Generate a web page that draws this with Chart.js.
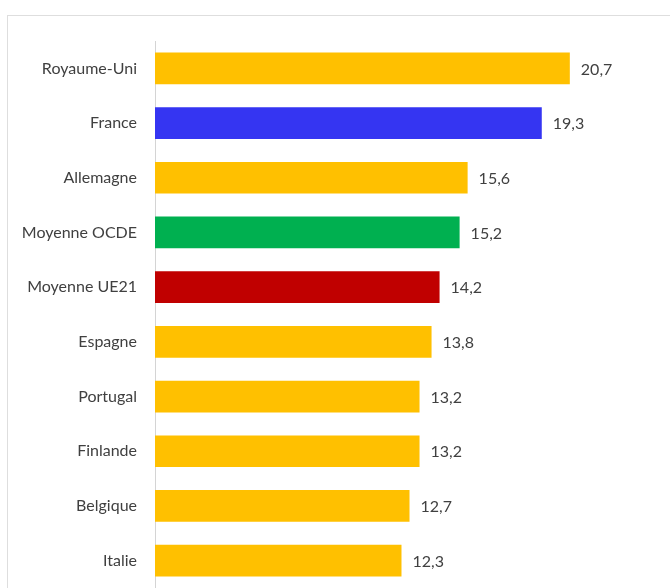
<!DOCTYPE html>
<html>
<head>
<meta charset="utf-8">
<script src="https://cdn.jsdelivr.net/npm/chart.js@4/dist/chart.umd.min.js"></script>
<style>
  html, body { margin: 0; padding: 0; background: #fff; overflow: hidden; }
  #cadre { position: absolute; left: 7px; top: 15px; width: 700px; height: 600px; border: 1px solid #dedede; }
  #graphique { position: absolute; left: 0; top: 0; }
</style>
</head>
<body>
<div id="cadre"></div>
<canvas id="graphique" width="670" height="588"></canvas>
<script>
const pays = ['Royaume-Uni', 'France', 'Allemagne', 'Moyenne OCDE', 'Moyenne UE21',
    'Espagne', 'Portugal', 'Finlande', 'Belgique', 'Italie'];
const valeurs = [20.7, 19.3, 15.6, 15.2, 14.2, 13.8, 13.2, 13.2, 12.7, 12.3];
const couleurs = ['#FFC000', '#3535F2', '#FFC000', '#00B050', '#C00000',
    '#FFC000', '#FFC000', '#FFC000', '#FFC000', '#FFC000'];

// étiquettes de valeur à droite des barres, avec virgule décimale
const etiquettesValeurs = {
    id: 'etiquettesValeurs',
    afterDatasetsDraw(chart) {
        const ctx = chart.ctx;
        const meta = chart.getDatasetMeta(0);
        ctx.save();
        ctx.font = '16px Lato';
        ctx.fillStyle = '#404040';
        ctx.textAlign = 'left';
        ctx.textBaseline = 'middle';
        meta.data.forEach((barre, i) => {
            const txt = valeurs[i].toFixed(1).replace('.', ',');
            ctx.fillText(txt, barre.x + 11, barre.y + 1);
        });
        ctx.restore();
    }
};

const ctx = document.getElementById('graphique').getContext('2d');
new Chart(ctx, {
    type: 'bar',
    data: {
        labels: pays,
        datasets: [{
            data: valeurs,
            backgroundColor: couleurs,
            borderWidth: 0,
            categoryPercentage: 1,
            barPercentage: 0.58
        }]
    },
    options: {
        indexAxis: 'y',
        responsive: false,
        animation: false,
        layout: { padding: { left: 0, top: 41, right: 14, bottom: 0 } },
        plugins: {
            legend: { display: false },
            tooltip: { enabled: false }
        },
        scales: {
            x: { display: false, min: 0, max: 25 },
            y: {
                afterFit: scale => {
                    scale.width = 155;
                    // pas de marge en bas : les barres descendent jusqu'au bord
                    scale.paddingTop = 0;
                    scale.paddingBottom = 0;
                },
                grid: { display: false, drawTicks: false },
                border: { display: true, color: '#d4d4d4', width: 1 },
                ticks: {
                    color: '#404040',
                    font: { family: 'Lato', size: 16 },
                    padding: 18,
                    autoSkip: false
                }
            }
        }
    },
    plugins: [etiquettesValeurs]
});
</script>
</body>
</html>
